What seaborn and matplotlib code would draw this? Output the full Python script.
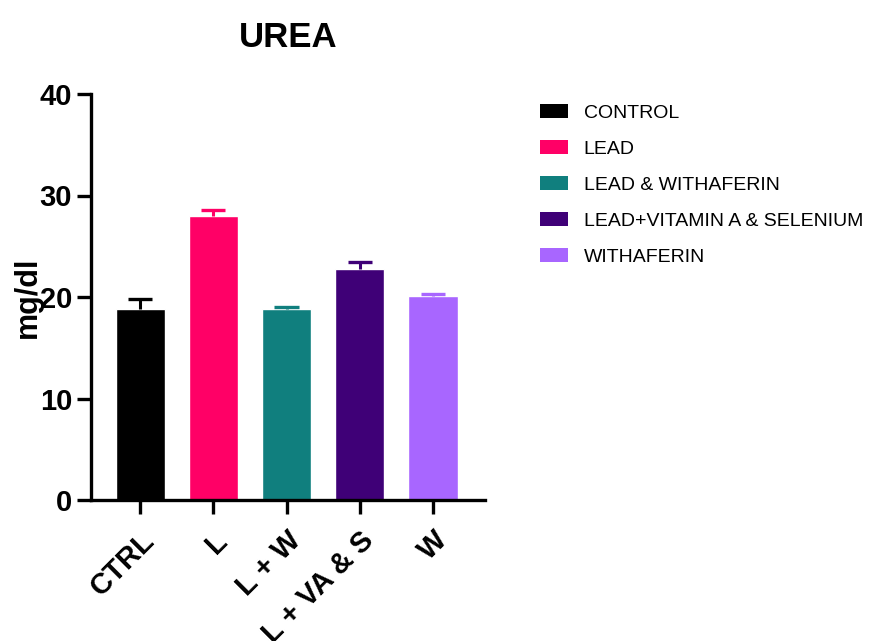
import matplotlib
matplotlib.use("Agg")
import matplotlib.pyplot as plt
from matplotlib.patches import Patch
import seaborn as sns
import pandas as pd

# Group codes on the x axis, full names in the legend
groups = ["CTRL", "L", "L + W", "L + VA & S", "W"]
group_names = ["CONTROL", "LEAD", "LEAD & WITHAFERIN",
               "LEAD+VITAMIN A & SELENIUM", "WITHAFERIN"]
urea_mean = [18.8, 28.0, 18.8, 22.8, 20.1]
urea_err = [1.0, 0.6, 0.25, 0.6, 0.2]
colors = ["#000000", "#FF0066", "#107F7E", "#3F0077", "#A866FF"]

sns.set_theme(style="ticks")
plt.rcParams["font.family"] = ["Liberation Sans", "DejaVu Sans"]
plt.rcParams.update({"text.color": "black", "axes.labelcolor": "black",
                     "xtick.color": "black", "ytick.color": "black"})

df = pd.DataFrame({"group": groups, "urea": urea_mean})

fig = plt.figure(figsize=(8.83, 6.41), dpi=100)
ax = fig.add_axes([91 / 883, 1 - 500 / 641, (485 - 91) / 883, (500 - 94) / 641])

sns.barplot(data=df, x="group", y="urea", hue="group", palette=colors,
            order=groups, hue_order=groups, errorbar=None, legend=False,
            width=0.67, saturation=1, ax=ax)

# Upper-only SEM bars in the bar colour
cap_half = 0.165
for i, (m, e, c) in enumerate(zip(urea_mean, urea_err, colors)):
    ax.vlines(i, m, m + e, color=c, linewidth=2.2, zorder=1)
    ax.hlines(m + e, i - cap_half, i + cap_half, color=c, linewidth=2.4, zorder=1)

ax.set_xlim(-0.67, 4.71)
ax.set_ylim(0, 40)
ax.set_yticks([0, 10, 20, 30, 40])
ax.set_xlabel("")
ax.set_ylabel("mg/dl", fontsize=22, fontweight="bold", labelpad=-2)
ax.set_title("UREA", fontsize=25, fontweight="bold", pad=34)

for s in ["top", "right"]:
    ax.spines[s].set_visible(False)
for s in ["left", "bottom"]:
    ax.spines[s].set_linewidth(2.4)
    ax.spines[s].set_color("black")
ax.tick_params(axis="both", length=10, width=2.4, color="black")
ax.tick_params(axis="y", labelsize=21)
ax.tick_params(axis="x", labelsize=21, pad=9)
for lbl in ax.get_yticklabels():
    lbl.set_fontweight("bold")
for lbl in ax.get_xticklabels():
    lbl.set_fontweight("bold")
    lbl.set_rotation(45)
    lbl.set_ha("right")
    lbl.set_rotation_mode("anchor")

handles = [Patch(facecolor=c, edgecolor="none") for c in colors]
fig.legend(handles, group_names, loc="upper left",
           bbox_to_anchor=(540 / 883, 1 - 104 / 641), frameon=False,
           borderpad=0, borderaxespad=0,
           fontsize=14, handlelength=1.45, handleheight=0.7,
           handletextpad=0.8, labelspacing=0.95)

fig.savefig("out.png", dpi=100)
